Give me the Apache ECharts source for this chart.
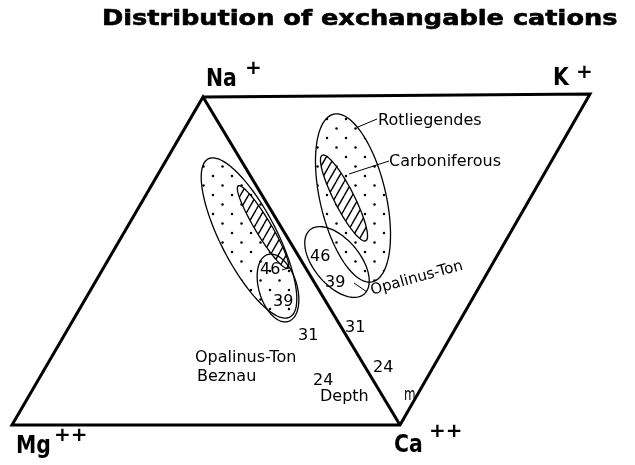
<!DOCTYPE html>
<html>
<head>
<meta charset="utf-8">
<script src="https://cdn.jsdelivr.net/npm/echarts@6/dist/echarts.min.js"></script>
<style>
  html, body { margin: 0; padding: 0; background: #fff; }
  #chart { width: 635px; height: 465px; }
</style>
</head>
<body>
<div id="chart"></div>
<script>
// diagram frame (Na - K - Ca - Mg), plotted in diagram units
var frameX = [203, 590, 400, 12, 203, 400];
var frameY = [97, 94, 425, 425, 97, 425];

// fields of the samples: centre, half axes, tilt, fill
var fieldNames = ['Beznau (dots)', 'Rotliegendes', 'Beznau (hatch)', 'Carboniferous', 'Beznau 46-39', 'Opalinus-Ton'];
var fieldCx = [249, 353, 263, 344, 278, 337];
var fieldCy = [238, 198, 227, 198, 288, 262];
var fieldA = [89, 86, 48, 48, 35, 42];
var fieldB = [28, 33, 8, 10, 19, 23];
var fieldTilt = [62.7, 77, 59, 63, 73, 50];
var fieldFill = ['dots', 'dots', 'hatch', 'hatch', 'none', 'none'];

// leader lines from field to its name
var leaderFrom = [[358, 127], [349, 174], [354, 283], [282, 270]];
var leaderTo = [[377, 119], [389, 161], [367, 292], [289, 268]];

// texts on the diagram
var labelTexts = ['Na', '+', 'K', '+', 'Mg', '++', 'Ca', '++',
  'Rotliegendes', 'Carboniferous', 'Opalinus-Ton',
  '46', '39', '46', '39', '31', '31',
  'Opalinus-Ton', 'Beznau', '24', '24', 'Depth', 'm'];
var labelX = [206, 245, 553, 576, 16, 54, 394, 429,
  378, 389, 371,
  260, 273, 310, 325, 298, 345,
  195, 197, 313, 373, 320, 404];
var labelY = [80, 69, 79, 73, 447, 436, 446, 432,
  121, 162, 291,
  270, 302, 257, 283, 336, 328,
  358, 377, 381, 368, 397, 396];
var labelKind = ['ion', 'sup', 'ion', 'sup', 'ion', 'sup', 'ion', 'sup',
  'note', 'note', 'tilt',
  'num', 'num', 'num', 'num', 'num', 'num',
  'note', 'note', 'num', 'num', 'note', 'small'];

var fonts = {
  ion: 'bold 24px "DejaVu Sans", sans-serif',
  sup: 'bold 20px "DejaVu Sans", sans-serif',
  note: '16px "DejaVu Sans", sans-serif',
  tilt: '15px "DejaVu Sans", sans-serif',
  num: '16px "DejaVu Sans", sans-serif',
  small: '17px "DejaVu Sans", sans-serif'
};
var squeeze = { ion: 0.85, small: 0.7 };

function dotPattern() {
  var s = 19;
  var c = document.createElement('canvas');
  c.width = s; c.height = s;
  var ctx = c.getContext('2d');
  ctx.fillStyle = '#fff';
  ctx.fillRect(0, 0, s, s);
  ctx.fillStyle = '#000';
  ctx.beginPath(); ctx.arc(4, 5, 1.25, 0, Math.PI * 2); ctx.fill();
  ctx.beginPath(); ctx.arc(13.5, 14.5, 1.25, 0, Math.PI * 2); ctx.fill();
  return c;
}

function hatchPattern() {
  var w = 8, h = 14;
  var c = document.createElement('canvas');
  c.width = w; c.height = h;
  var ctx = c.getContext('2d');
  ctx.fillStyle = '#fff';
  ctx.fillRect(0, 0, w, h);
  ctx.strokeStyle = '#000';
  ctx.lineWidth = 1.4;
  [-w, 0, w].forEach(function (o) {
    ctx.beginPath();
    ctx.moveTo(o, h);
    ctx.lineTo(o + w, 0);
    ctx.stroke();
  });
  return c;
}

var fills = {
  dots: { image: dotPattern(), repeat: 'repeat' },
  hatch: { image: hatchPattern(), repeat: 'repeat' },
  none: 'none'
};

var chart = echarts.init(document.getElementById('chart'));

var framePoints = frameX.map(function (x, i) { return [x, frameY[i]]; });
var fieldData = fieldNames.map(function (n, i) { return [fieldCx[i], fieldCy[i], i]; });
var labelData = labelTexts.map(function (t, i) { return [labelX[i], labelY[i], i]; });
var leaderData = leaderFrom.map(function (p, i) { return { coords: [p, leaderTo[i]] }; });

var option = {
  animation: false,
  backgroundColor: '#fff',
  graphic: [{
    type: 'text',
    x: 102,
    y: 20,
    scaleX: 1.22,
    style: {
      text: 'Distribution of exchangable cations',
      font: 'bold 21px "DejaVu Sans", sans-serif',
      fill: '#000',
      stroke: '#000',
      lineWidth: 0.6,
      align: 'left',
      verticalAlign: 'middle'
    }
  }],
  grid: { left: 0, right: 0, top: 0, bottom: 0 },
  xAxis: { type: 'value', min: 0, max: 635, show: false },
  yAxis: { type: 'value', min: 0, max: 465, inverse: true, show: false },
  series: [
    {
      type: 'custom',
      name: 'fields',
      data: fieldData,
      clip: false,
      renderItem: function (params, api) {
        var i = api.value(2);
        var cx = api.value(0), cy = api.value(1);
        var a = fieldA[i], b = fieldB[i];
        var t0 = fieldTilt[i] * Math.PI / 180;
        var pts = [];
        for (var k = 0; k < 96; k++) {
          var t = k / 96 * Math.PI * 2;
          var lx = a * Math.cos(t), ly = b * Math.sin(t);
          pts.push(api.coord([
            cx + lx * Math.cos(t0) - ly * Math.sin(t0),
            cy + lx * Math.sin(t0) + ly * Math.cos(t0)
          ]));
        }
        return {
          type: 'polygon',
          shape: { points: pts },
          style: { fill: fills[fieldFill[i]], stroke: '#000', lineWidth: 1.3 }
        };
      }
    },
    {
      type: 'line',
      name: 'frame',
      data: framePoints,
      symbol: 'none',
      lineStyle: { color: '#000', width: 3, join: 'miter', cap: 'butt' }
    },
    {
      type: 'lines',
      coordinateSystem: 'cartesian2d',
      data: leaderData,
      lineStyle: { color: '#000', width: 1, opacity: 1 }
    },
    {
      type: 'custom',
      name: 'labels',
      data: labelData,
      clip: false,
      renderItem: function (params, api) {
        var i = api.value(2);
        var kind = labelKind[i];
        var p = api.coord([api.value(0), api.value(1)]);
        return {
          type: 'text',
          x: p[0],
          y: p[1],
          scaleX: squeeze[kind] || 1,
          rotation: kind === 'tilt' ? 15.5 * Math.PI / 180 : 0,
          style: {
            text: labelTexts[i],
            font: fonts[kind],
            fill: '#000',
            align: 'left',
            verticalAlign: 'middle'
          }
        };
      }
    }
  ]
};

chart.setOption(option);
</script>
</body>
</html>
